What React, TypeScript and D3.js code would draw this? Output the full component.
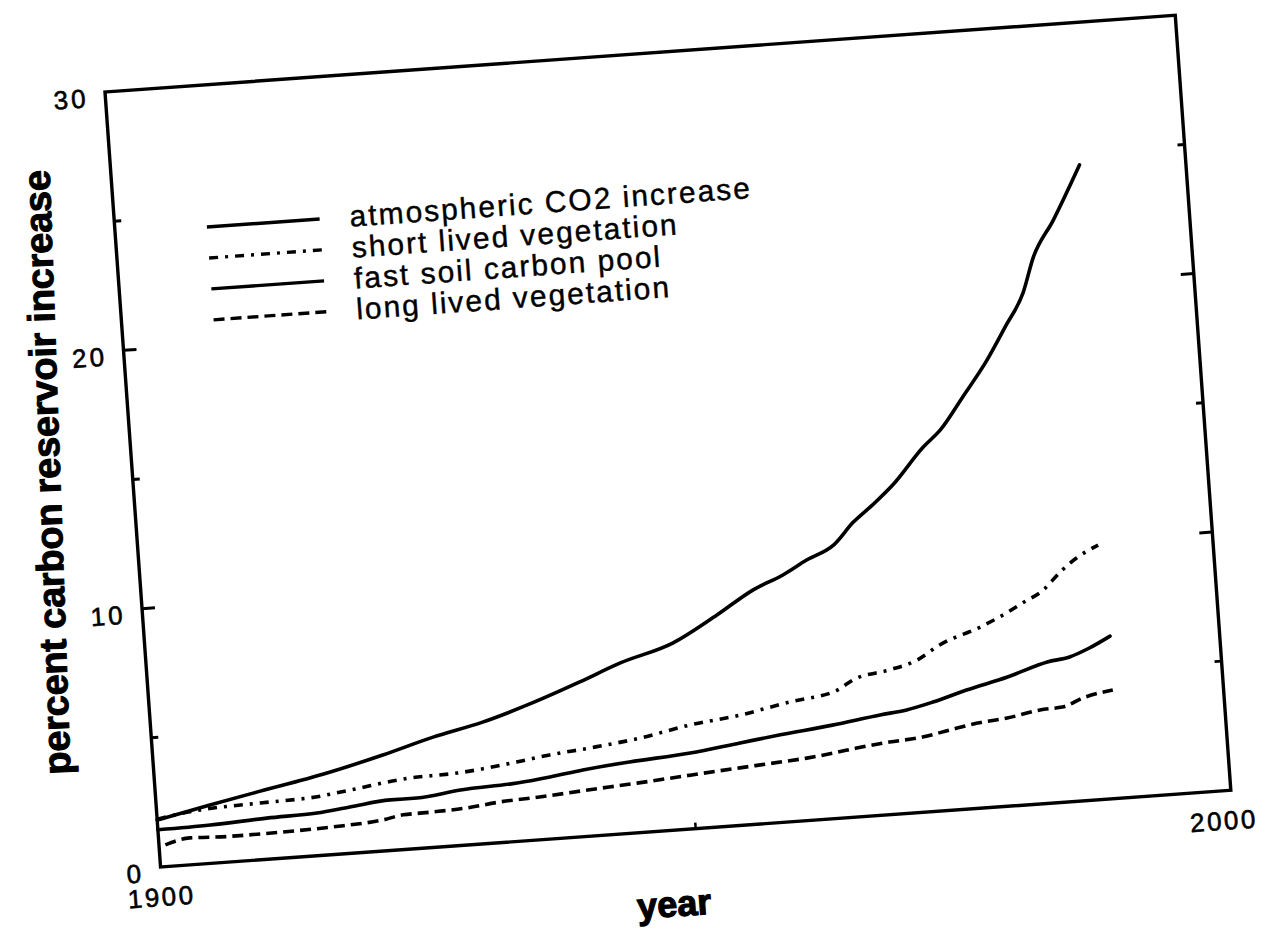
import React, { useEffect, useRef } from 'react';
import * as d3 from 'd3';

// ------- Data -------
const co2Years = [1900, 1905, 1909.1, 1916.1, 1921.4, 1926.2, 1930.9, 1935.7, 1940.2, 1944.1, 1949.1, 1953.4, 1956.9, 1959.8, 1962.1, 1964.7, 1966.7, 1968.6, 1970.6, 1973.7, 1975.4, 1977.7, 1980.2, 1982.1, 1984.0, 1985.2, 1987.3, 1990.1];
const co2Values = [1.82, 2.25, 2.59, 3.16, 3.7, 4.25, 4.69, 5.3, 5.97, 6.59, 7.21, 8.17, 9.03, 9.53, 10.04, 10.54, 11.37, 11.98, 12.69, 14.07, 14.68, 15.89, 17.24, 18.46, 19.73, 21.08, 22.45, 24.5];

const shortYears = [1900, 1904.1, 1909.7, 1914.3, 1918.1, 1923.8, 1928.2, 1933.8, 1936.9, 1940.7, 1945.4, 1950.2, 1954.9, 1959.6, 1963.7, 1966.0, 1969.1, 1971.7, 1973.9, 1977.8, 1980.0, 1981.9, 1983.9, 1985.6, 1987.2, 1989.3];
const shortValues = [1.85, 2.09, 2.19, 2.25, 2.44, 2.74, 2.8, 3.06, 3.24, 3.4, 3.64, 4.01, 4.25, 4.62, 4.88, 5.36, 5.58, 5.88, 6.4, 6.98, 7.38, 7.79, 8.23, 8.88, 9.37, 9.81];

const fastYears = [1900, 1904.9, 1910.2, 1914.9, 1918.0, 1921.8, 1924.3, 1928.4, 1933.7, 1936.8, 1939.9, 1944.3, 1950.0, 1954.7, 1958.5, 1963.4, 1967.9, 1970.4, 1972.9, 1976.1, 1980.0, 1983.8, 1985.9, 1987.8, 1989.8];
const fastValues = [1.44, 1.48, 1.59, 1.65, 1.79, 1.95, 1.95, 2.14, 2.25, 2.39, 2.57, 2.75, 2.93, 3.18, 3.38, 3.61, 3.87, 3.99, 4.22, 4.59, 4.98, 5.45, 5.58, 5.87, 6.27];

const longYears = [1900.6, 1902.9, 1906.4, 1911.6, 1916.3, 1921.0, 1922.9, 1925.7, 1928.9, 1932.0, 1935.7, 1940, 1945, 1950, 1954.5, 1957.6, 1960.8, 1963.3, 1965.5, 1968.6, 1971.7, 1974.3, 1976.9, 1979.7, 1982.8, 1984.9, 1986.9, 1989.7];
const longValues = [0.84, 1.04, 0.99, 1.01, 1.07, 1.2, 1.34, 1.37, 1.43, 1.57, 1.65, 1.78, 1.92, 2.08, 2.22, 2.31, 2.41, 2.53, 2.66, 2.8, 2.9, 3.1, 3.29, 3.4, 3.62, 3.67, 3.97, 4.19];

const legendLabels = ['atmospheric CO2 increase', 'short lived vegetation', 'fast soil carbon pool', 'long lived vegetation'];
const yTickLabels = [0, 10, 20, 30];
const yMinorTicks = [5, 15, 25];
const xTickLabels = [1900, 2000];

const FONT = '"Liberation Sans", Arial, Helvetica, sans-serif';
const DASH_DOT = '9 7 3 7';
const DASHED = '11 6';

export default function App() {
  const ref = useRef<SVGSVGElement>(null);

  useEffect(() => {
    if (!ref.current) return;
    const svg = d3.select(ref.current);
    svg.selectAll('*').remove();

    const width = 1262;
    const height = 929;
    const W = 1073; // plot width in its own (tilted) frame
    const H = 777;
    const tilt = -4.1; // the scan is slightly rotated

    svg.attr('width', width).attr('height', height);
    svg.append('rect').attr('width', width).attr('height', height).attr('fill', '#fff');

    const g = svg.append('g').attr('transform', `translate(105,92) rotate(${tilt})`);

    // ------- Scales -------
    const x = d3.scaleLinear().domain([1900, 2000]).range([0, W]);
    const y = d3.scaleLinear().domain([0, 30]).range([H, 0]);

    // ------- Frame -------
    g.append('rect')
      .attr('width', W)
      .attr('height', H)
      .attr('fill', 'none')
      .attr('stroke', '#000')
      .attr('stroke-width', 3.4);

    // ------- Ticks (inward, both sides) -------
    const tickData = [
      ...yTickLabels.filter((v) => v > 0 && v < 30).map((v) => ({ v, len: 13 })),
      ...yMinorTicks.map((v) => ({ v, len: 7 })),
    ];
    g.selectAll('line.lt')
      .data(tickData)
      .enter()
      .append('line')
      .attr('x1', 0)
      .attr('x2', (d) => d.len)
      .attr('y1', (d) => y(d.v))
      .attr('y2', (d) => y(d.v))
      .attr('stroke', '#000')
      .attr('stroke-width', 3);
    g.selectAll('line.rt')
      .data(tickData)
      .enter()
      .append('line')
      .attr('x1', W)
      .attr('x2', (d) => W - d.len)
      .attr('y1', (d) => y(d.v))
      .attr('y2', (d) => y(d.v))
      .attr('stroke', '#000')
      .attr('stroke-width', 3);
    g.append('line')
      .attr('x1', x(1950))
      .attr('x2', x(1950))
      .attr('y1', H)
      .attr('y2', H - 6)
      .attr('stroke', '#000')
      .attr('stroke-width', 2.5);

    // ------- Tick labels -------
    g.selectAll('text.yl')
      .data(yTickLabels)
      .enter()
      .append('text')
      .attr('x', -17)
      .attr('y', (d) => y(d) + 14)
      .attr('text-anchor', 'end')
      .attr('font-family', FONT)
      .attr('font-size', 26)
      .attr('letter-spacing', 3)
      .attr('stroke', '#000')
      .attr('stroke-width', 0.6)
      .attr('fill', '#000')
      .text((d) => d);

    g.selectAll('text.xl')
      .data(xTickLabels)
      .enter()
      .append('text')
      .attr('x', (d) => x(d) + (d === 2000 ? -9 : -1))
      .attr('y', H + 39)
      .attr('text-anchor', 'middle')
      .attr('font-family', FONT)
      .attr('font-size', 26)
      .attr('letter-spacing', 2.5)
      .attr('stroke', '#000')
      .attr('stroke-width', 0.6)
      .attr('fill', '#000')
      .text((d) => d);

    g.append('text')
      .attr('x', x(1947.5))
      .attr('y', H + 86)
      .attr('text-anchor', 'middle')
      .attr('font-family', FONT)
      .attr('font-weight', 'bold')
      .attr('font-size', 36)
      .attr('stroke', '#000')
      .attr('stroke-width', 1.2)
      .attr('fill', '#000')
      .text('year');

    svg
      .append('text')
      .attr('transform', 'translate(60,472) rotate(-92)')
      .attr('text-anchor', 'middle')
      .attr('font-family', FONT)
      .attr('font-weight', 'bold')
      .attr('font-size', 38)
      .attr('textLength', 605)
      .attr('lengthAdjust', 'spacing')
      .attr('stroke', '#000')
      .attr('stroke-width', 1)
      .attr('fill', '#000')
      .text('percent carbon reservoir increase');

    // ------- Lines -------
    const line = d3
      .line<[number, number]>()
      .x((d) => x(d[0]))
      .y((d) => y(d[1]))
      .curve(d3.curveMonotoneX);

    const series = [
      { years: co2Years, values: co2Values, dash: null },
      { years: shortYears, values: shortValues, dash: DASH_DOT },
      { years: fastYears, values: fastValues, dash: null },
      { years: longYears, values: longValues, dash: DASHED },
    ];

    series.forEach((s) => {
      const pts = s.years.map((yr, i) => [yr, s.values[i]] as [number, number]);
      g.append('path')
        .datum(pts)
        .attr('fill', 'none')
        .attr('stroke', '#000')
        .attr('stroke-width', 3.6)
        .attr('stroke-linecap', s.dash ? 'butt' : 'round')
        .attr('stroke-dasharray', s.dash)
        .attr('d', line);
    });

    // ------- Legend -------
    const leg = g.append('g');
    legendLabels.forEach((label, i) => {
      const ly = 142 + i * 31;
      leg
        .append('line')
        .attr('x1', 92)
        .attr('x2', 205)
        .attr('y1', ly)
        .attr('y2', ly)
        .attr('stroke', '#000')
        .attr('stroke-width', 3.4)
        .attr('stroke-dasharray', series[i].dash);
      leg
        .append('text')
        .attr('x', 235)
        .attr('y', ly + 10)
        .attr('font-family', FONT)
        .attr('font-size', 30)
        .attr('letter-spacing', 2)
        .attr('stroke', '#000')
        .attr('stroke-width', 0.4)
        .attr('fill', '#000')
        .text(label);
    });
  }, []);

  return <svg ref={ref} style={{ position: 'absolute', left: 0, top: 0 }} />;
}
